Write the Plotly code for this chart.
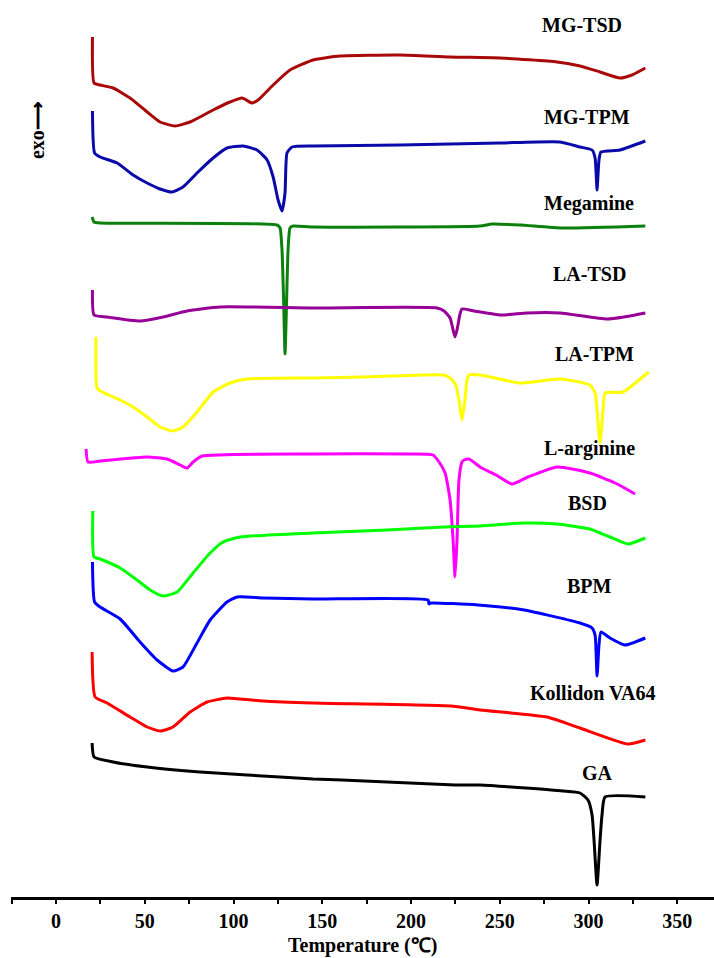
import plotly.graph_objects as go

# ---------------- data (temperature in °C, heat flow in arbitrary stacked units) -------------
t_mg_tsd = [20.5, 21.4, 24.8, 32.1, 41.7, 51.3, 58.6, 67.0, 75.5, 88.5, 98.0, 104.8, 110.4, 113.8,
            122.3, 131.8, 144.8, 160.0, 193.8, 222.0, 250.1, 282.3, 295.2, 306.5, 317.7, 324.5, 332.0]
hf_mg_tsd = [86.0, 81.4, 81.2, 80.9, 79.9, 78.5, 77.5, 77.1, 77.5, 78.7, 79.5, 79.9, 79.4, 79.7,
             81.2, 82.7, 83.7, 84.1, 84.2, 84.0, 83.9, 83.5, 83.1, 82.5, 81.9, 82.2, 82.9]

t_mg_tpm = [20.5, 21.7, 24.8, 34.4, 43.4, 51.3, 58.6, 65.4, 71.5, 79.4, 88.5, 96.3, 105.4, 113.2,
            118.9, 122.3, 125.1, 127.3, 129.0, 130.1, 133.0, 144.8, 193.8, 250.1, 284.0, 295.2,
            302.0, 303.7, 304.8, 305.9, 307.0, 317.7, 332.0]
hf_mg_tpm = [78.6, 74.4, 74.0, 73.4, 72.2, 71.4, 70.8, 70.5, 71.0, 72.4, 73.9, 74.9, 75.1, 74.7,
             73.7, 72.0, 69.7, 68.6, 70.4, 74.4, 75.0, 75.1, 75.2, 75.4, 75.5, 75.0,
             74.7, 73.9, 70.7, 73.7, 74.5, 74.7, 75.6]

t_megamine = [20.3, 21.4, 24.8, 124.5, 126.2, 127.3, 128.2, 129.0, 129.9, 130.7, 131.8, 133.5,
              144.8, 238.9, 245.6, 261.4, 285.6, 332.0]
hf_megamine = [68.0, 67.5, 67.4, 67.2, 66.9, 64.7, 59.7, 54.3, 59.7, 64.7, 66.9, 67.1,
               67.0, 67.1, 67.3, 67.2, 66.9, 67.1]

t_la_tsd = [20.5, 21.4, 28.7, 47.3, 60.3, 73.8, 92.4, 144.8, 214.6, 218.6, 222.0, 223.7, 224.8,
            225.9, 227.6, 228.7, 235.5, 250.7, 265.4, 284.0, 310.4, 320.0, 332.0]
hf_la_tsd = [60.7, 58.2, 58.0, 57.6, 58.0, 58.6, 59.0, 58.9, 58.9, 58.6, 57.9, 56.7, 56.0,
             56.7, 58.3, 58.8, 58.6, 58.2, 58.4, 58.4, 57.8, 58.0, 58.4]

t_la_tpm = [22.5, 23.1, 25.9, 36.1, 43.4, 51.3, 58.6, 65.9, 71.5, 79.4, 88.5, 98.0, 107.6, 144.8,
            173.5, 218.6, 222.0, 223.7, 225.4, 227.0, 228.7, 230.4, 231.5, 232.7, 238.9, 261.4,
            284.0, 300.8, 303.7, 304.8, 306.5, 308.2, 309.3, 319.4, 333.8]
hf_la_tpm = [56.0, 50.9, 50.5, 49.7, 49.0, 48.0, 47.0, 46.6, 47.0, 48.5, 50.5, 51.4, 51.8, 51.9,
             52.0, 52.2, 51.9, 51.6, 51.1, 49.7, 47.7, 49.7, 51.7, 52.2, 52.2, 51.4,
             51.8, 51.2, 50.4, 48.7, 45.4, 48.7, 50.4, 50.5, 52.5]

t_l_arginine = [16.9, 18.0, 24.8, 51.3, 62.5, 69.9, 73.8, 77.2, 82.3, 144.8, 199.4, 212.4, 215.8,
                219.2, 222.0, 223.7, 224.8, 225.9, 227.0, 228.7, 229.9, 232.7, 238.9, 247.9,
                256.9, 265.9, 282.3, 300.8, 315.0, 326.2]
hf_l_arginine = [44.8, 43.5, 43.6, 44.0, 43.8, 43.2, 42.9, 43.5, 44.1, 44.3, 44.3, 44.2, 43.5,
                 42.4, 39.7, 35.7, 32.0, 35.7, 41.7, 43.5, 43.7, 43.8, 43.0, 42.2,
                 41.3, 42.0, 43.0, 42.4, 41.4, 40.3]

t_bsd = [20.7, 21.4, 24.8, 36.1, 45.6, 53.0, 60.3, 68.2, 77.2, 86.8, 94.1, 103.7, 144.8, 186.5,
         218.6, 238.9, 263.7, 282.3, 300.8, 312.1, 322.3, 332.0]
hf_bsd = [38.6, 34.0, 33.8, 32.9, 31.7, 30.7, 30.1, 30.5, 32.4, 34.4, 35.5, 36.0, 36.4, 36.7,
          37.0, 37.1, 37.4, 37.3, 36.8, 36.0, 35.3, 35.9]

t_bpm = [20.5, 21.7, 24.8, 36.1, 47.3, 56.9, 65.9, 71.5, 79.4, 86.8, 96.3, 102.0, 116.6, 144.8,
         209.6, 210.1, 211.3, 237.7, 263.7, 295.2, 302.0, 303.7, 304.8, 305.9, 307.0, 312.1,
         320.6, 332.0]
hf_bpm = [33.5, 29.5, 29.0, 27.8, 25.5, 23.7, 22.6, 23.0, 25.4, 27.7, 29.5, 30.0, 29.9, 29.8,
          29.7, 29.3, 29.4, 29.2, 28.7, 27.4, 26.9, 26.2, 22.1, 25.2, 26.5, 25.9,
          25.2, 25.9]

t_kollidon = [20.3, 22.0, 28.7, 41.7, 51.3, 58.6, 65.9, 75.5, 85.1, 96.3, 103.7, 116.6, 144.8,
              222.5, 238.9, 276.6, 295.2, 322.3, 332.0]
hf_kollidon = [24.5, 20.0, 19.4, 18.0, 17.0, 16.6, 17.0, 18.5, 19.5, 19.9, 19.8, 19.6, 19.4,
               19.1, 18.7, 18.0, 16.9, 15.3, 15.7]

t_ga = [20.3, 21.4, 32.1, 51.3, 81.1, 107.6, 144.8, 161.1, 224.8, 238.9, 285.6, 295.2, 299.7,
        302.0, 303.1, 304.8, 306.5, 307.6, 309.3, 332.0]
hf_ga = [15.4, 14.0, 13.5, 13.0, 12.5, 12.2, 11.8, 11.7, 11.2, 11.2, 10.6, 10.4, 9.7,
         8.2, 5.7, 1.2, 5.7, 8.2, 10.0, 10.0]

sample_names = ["MG-TSD", "MG-TPM", "Megamine", "LA-TSD", "LA-TPM",
                "L-arginine", "BSD", "BPM", "Kollidon VA64", "GA"]
tick_values = [0, 50, 100, 150, 200, 250, 300, 350]
tick_labels = ["0", "50", "100", "150", "200", "250", "300", "350"]

# ---------------- styling / placement ----------------
series = [
    (t_mg_tsd, hf_mg_tsd, "#A80808"),
    (t_mg_tpm, hf_mg_tpm, "#0A0AAA"),
    (t_megamine, hf_megamine, "#0C800C"),
    (t_la_tsd, hf_la_tsd, "#960096"),
    (t_la_tpm, hf_la_tpm, "#FFFF00"),
    (t_l_arginine, hf_l_arginine, "#FF00FF"),
    (t_bsd, hf_bsd, "#00FF00"),
    (t_bpm, hf_bpm, "#0000FF"),
    (t_kollidon, hf_kollidon, "#FF0000"),
    (t_ga, hf_ga, "#000000"),
]
label_pos = [(296.3, 87.2), (299.2, 78.0), (300.3, 69.4), (300.3, 62.3), (303.1, 54.3),
             (300.8, 44.9), (299.7, 39.4), (300.8, 31.1), (302.5, 20.4), (304.8, 12.4)]

FONT = "Liberation Serif"

fig = go.Figure()
for (tx, hy, col), name in zip(series, sample_names):
    fig.add_trace(go.Scatter(x=tx, y=hy, mode="lines", name=name,
                             line=dict(color=col, width=3, shape="spline", smoothing=0.5),
                             showlegend=False, hoverinfo="skip"))

for name, (lx, ly) in zip(sample_names, label_pos):
    fig.add_annotation(x=lx, y=ly, xref="x", yref="y", text=name, showarrow=False,
                       xanchor="center", yanchor="middle",
                       font=dict(family=FONT, size=20, color="black", weight="bold"))

fig.add_annotation(x=0.037, y=0.855, xref="paper", yref="paper", text="exo\u27F6",
                   showarrow=False, textangle=-90, xanchor="center", yanchor="middle",
                   font=dict(family=FONT, size=20, color="black", weight="bold"))
fig.add_annotation(x=0.5, y=-48 / 897, xref="paper", yref="paper",
                   text="Temperature (\u2103)", showarrow=False,
                   xanchor="center", yanchor="middle",
                   font=dict(family=FONT, size=20, color="black", weight="bold"))

fig.update_layout(
    width=714, height=958,
    margin=dict(l=11, r=0, t=0, b=61),
    paper_bgcolor="white", plot_bgcolor="white",
    xaxis=dict(range=[-25.4, 370.7], tickvals=tick_values, ticktext=tick_labels,
               showline=True, linecolor="black", linewidth=3,
               ticks="outside", ticklen=4, tickwidth=2, tickcolor="black",
               minor=dict(dtick=25, tick0=0, ticks="outside", ticklen=4, tickwidth=2,
                          tickcolor="black"),
               showgrid=False, zeroline=False, automargin=False,
               tickfont=dict(family=FONT, size=20, color="black", weight="bold")),
    yaxis=dict(range=[0, 89.7], visible=False, showgrid=False, zeroline=False,
               automargin=False),
)

fig.write_html("out.html")
